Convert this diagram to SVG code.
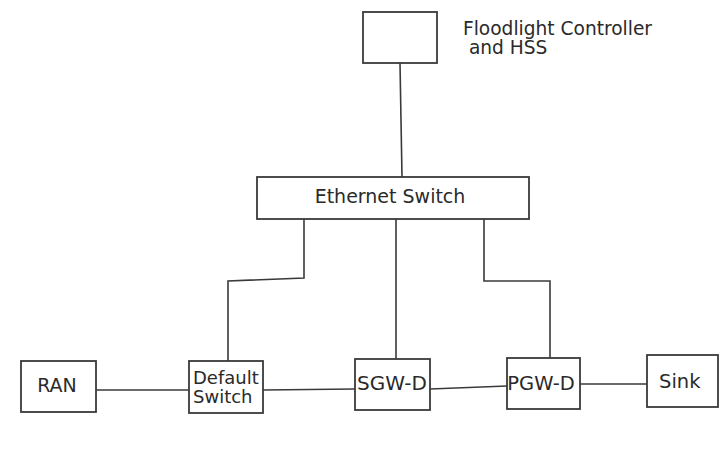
<svg xmlns="http://www.w3.org/2000/svg" width="719" height="461" viewBox="0 0 719 461">
<style>
.box{fill:#fff;stroke:#3a3a3a;stroke-width:1.8}
.ln{fill:none;stroke:#3a3a3a;stroke-width:1.6}
text{font-family:"DejaVu Sans",Verdana,sans-serif;font-size:19px;fill:#2a2a2a}
.c{text-anchor:middle}
.s{font-size:18px}
</style>
<rect width="719" height="461" fill="#fff"/>
<g id="connectors">
<polyline class="ln" points="400,63 402,177"/>
<polyline class="ln" points="304,219 304,278 228,281 228,361"/>
<polyline class="ln" points="396,219 396,359"/>
<polyline class="ln" points="484,219 484,281 550,281 550,358"/>
<polyline class="ln" points="96,390 189,390"/>
<polyline class="ln" points="263,390 355,389"/>
<polyline class="ln" points="430,389 507,386"/>
<polyline class="ln" points="580,384 647,384"/>
</g>
<g id="controller">
<rect class="box" x="363" y="12" width="74" height="51"/>
<text x="463" y="35" style="font-size:18.6px">Floodlight Controller</text>
<text x="463" y="54" style="font-size:18.6px" xml:space="preserve"> and HSS</text>
</g>
<g id="ethernet-switch">
<rect class="box" x="257" y="177" width="272" height="42"/>
<text class="c" x="390" y="203">Ethernet Switch</text>
</g>
<g id="ran">
<rect class="box" x="21" y="361" width="75" height="51"/>
<text class="c" x="57" y="392">RAN</text>
</g>
<g id="default-switch">
<rect class="box" x="189" y="361" width="74" height="52"/>
<text class="s" x="193" y="384">Default</text>
<text class="s" x="193" y="403">Switch</text>
</g>
<g id="sgw-d">
<rect class="box" x="355" y="359" width="75" height="51"/>
<text class="c" x="392" y="390" style="font-size:20px">SGW-D</text>
</g>
<g id="pgw-d">
<rect class="box" x="507" y="358" width="73" height="51"/>
<text class="c" x="541" y="390" style="font-size:19.5px">PGW-D</text>
</g>
<g id="sink">
<rect class="box" x="647" y="355" width="71" height="52"/>
<text x="659" y="388" style="font-size:19.5px">Sink</text>
</g>
</svg>
